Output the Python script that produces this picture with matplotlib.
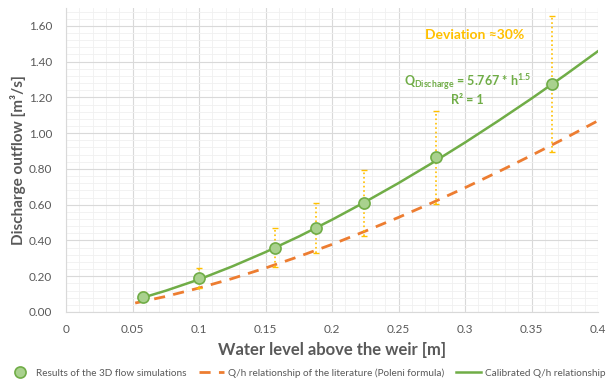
import numpy as np
import matplotlib
matplotlib.use('Agg')
import matplotlib.pyplot as plt
from matplotlib.ticker import MultipleLocator, FuncFormatter

plt.rcParams['font.family'] = ['Lato', 'DejaVu Sans']
plt.rcParams['mathtext.fontset'] = 'custom'
plt.rcParams['mathtext.rm'] = 'Lato:bold'
plt.rcParams['mathtext.it'] = 'Lato:bold'
plt.rcParams['mathtext.bf'] = 'Lato:bold'

# 3D flow simulation results
h_sim = [0.058, 0.1, 0.157, 0.188, 0.224, 0.278, 0.365]
q_sim = [0.085, 0.19, 0.36, 0.47, 0.61, 0.865, 1.275]
deviation = 0.30

# calibrated Q/h curve
h_cal = [0.055, 0.075, 0.1, 0.125, 0.15, 0.175, 0.2, 0.225, 0.25, 0.275, 0.3, 0.325, 0.35, 0.375, 0.4]
q_cal = [0.074, 0.119, 0.182, 0.255, 0.335, 0.422, 0.516, 0.616, 0.721, 0.832, 0.948, 1.069, 1.194, 1.324, 1.459]

# Poleni formula curve
h_pol = [0.052, 0.075, 0.1, 0.125, 0.15, 0.175, 0.2, 0.225, 0.25, 0.275, 0.3, 0.325, 0.35, 0.375, 0.4]
q_pol = [0.050, 0.087, 0.134, 0.187, 0.246, 0.310, 0.378, 0.452, 0.529, 0.610, 0.695, 0.784, 0.876, 0.971, 1.070]

GREEN = '#70ad47'
GREEN_FILL = '#a9d18e'
ORANGE = '#ed7d31'
GOLD = '#ffc000'
GREY = '#595959'

fig = plt.figure(figsize=(6.13, 3.80), dpi=100)
ax = fig.add_axes([0.1077, 0.179, 0.868, 0.80])

q_arr = np.array(q_sim)
ax.errorbar(h_sim, q_sim, yerr=q_arr * deviation, fmt='none', ecolor=GOLD,
            elinewidth=1.2, capsize=2, capthick=1, zorder=3)
for bar in ax.containers[-1].lines[2]:
    bar.set_linestyle(':')

l_pol, = ax.plot(h_pol, q_pol, color=ORANGE, lw=2, dashes=(4, 3), zorder=2,
                 label='Q/h relationship of the literature (Poleni formula)')
l_cal, = ax.plot(h_cal, q_cal, color=GREEN, lw=1.8, zorder=4,
                 label='Calibrated Q/h relationship')
l_sim, = ax.plot(h_sim, q_sim, 'o', ms=8, mfc=GREEN_FILL, mec=GREEN, mew=1.2, zorder=5,
                 label='Results of the 3D flow simulations')

ax.set_xlim(0, 0.4)
ax.set_ylim(0, 1.7)
ax.xaxis.set_major_locator(MultipleLocator(0.05))
ax.xaxis.set_minor_locator(MultipleLocator(0.01))
ax.yaxis.set_major_locator(MultipleLocator(0.2))
ax.yaxis.set_minor_locator(MultipleLocator(0.04))
ax.xaxis.set_major_formatter(FuncFormatter(lambda v, p: '0' if v == 0 else ('%g' % round(v, 2))))
ax.yaxis.set_major_formatter(FuncFormatter(lambda v, p: '%.2f' % v))
ax.grid(which='major', color='#d9d9d9', lw=0.8)
ax.grid(which='minor', color='#f0f0f0', lw=0.6)
ax.set_axisbelow(True)
for s in ['top', 'right']:
    ax.spines[s].set_visible(False)
for s in ['left', 'bottom']:
    ax.spines[s].set_color('#d9d9d9')
ax.tick_params(which='both', length=0, colors=GREY, labelsize=8.5)
ax.tick_params(axis='y', pad=10)
ax.tick_params(axis='x', pad=9)

ax.set_xlabel('Water level above the weir [m]', fontsize=12, fontweight='bold', color=GREY, labelpad=5)
ax.set_ylabel('Discharge outflow [m\u00b3/s]', fontsize=11, fontweight='bold', color=GREY, labelpad=2)

ax.text(0.307, 1.548, 'Deviation \u224830%', color=GOLD, fontsize=10, fontweight='bold', ha='center', va='center')
ax.text(0.302, 1.28, r'Q$_{Discharge}$ = 5.767 * h$^{1.5}$', color=GREEN, fontsize=9,
        fontweight='bold', ha='center', va='center')
ax.text(0.302, 1.186, 'R\u00b2 = 1', color=GREEN, fontsize=9, fontweight='bold', ha='center', va='center')

fig.legend(handles=[l_sim, l_pol, l_cal], loc='center', bbox_to_anchor=(0.5, 0.018), ncol=3,
           frameon=False, fontsize=7.2, labelcolor=GREY, handlelength=2.5, columnspacing=1.2,
           handletextpad=0.4)

fig.savefig('out.png', dpi=100)
